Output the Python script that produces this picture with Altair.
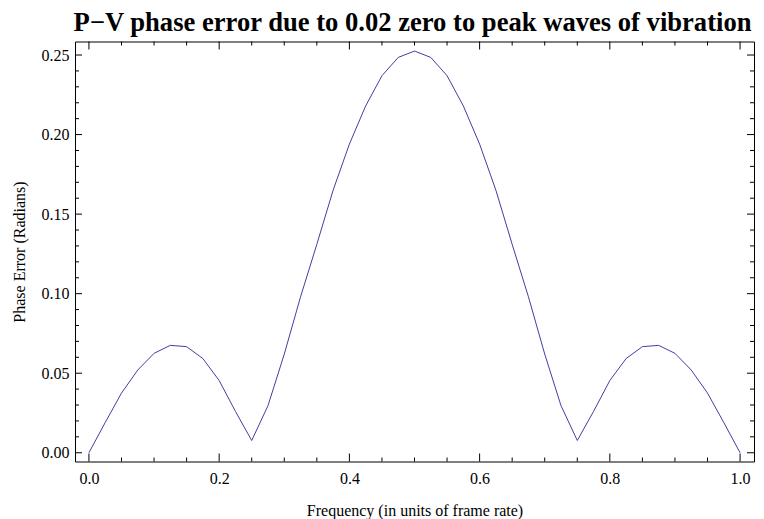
import altair as alt
import pandas as pd

# Data
freq = [round(i * 0.025, 3) for i in range(41)]
left_half = [0.0, 0.019, 0.0375, 0.052, 0.0625, 0.0675, 0.0667, 0.0592, 0.0454, 0.026,
             0.0077, 0.0296, 0.062, 0.098, 0.131, 0.165, 0.194, 0.218, 0.237, 0.2485, 0.2525]
right_half = [0.2485, 0.237, 0.218, 0.194, 0.165, 0.131, 0.098, 0.062, 0.0296, 0.0077,
              0.026, 0.0454, 0.0592, 0.0667, 0.0675, 0.0625, 0.052, 0.0375, 0.019, 0.0]
phase_error = left_half + right_half

x_major = [0.0, 0.2, 0.4, 0.6, 0.8, 1.0]
x_minor = [0.05, 0.1, 0.15, 0.25, 0.3, 0.35, 0.45, 0.5, 0.55, 0.65, 0.7, 0.75, 0.85, 0.9, 0.95]
y_major = [0.0, 0.05, 0.10, 0.15, 0.20, 0.25]
y_minor = [0.01, 0.02, 0.03, 0.04, 0.06, 0.07, 0.08, 0.09, 0.11, 0.12, 0.13, 0.14,
           0.16, 0.17, 0.18, 0.19, 0.21, 0.22, 0.23, 0.24]

W, H = 679, 420
FONT = "Liberation Serif"
LINE_COLOR = "#4040a0"

df = pd.DataFrame({"f": freq, "e": phase_error})

xscale = alt.Scale(domain=[-0.0214, 1.0214], nice=False, zero=False)
yscale = alt.Scale(domain=[-0.0055, 0.2585], nice=False, zero=False)

line = alt.Chart(df).mark_line(color=LINE_COLOR, strokeWidth=1).encode(
    x=alt.X("f:Q", scale=xscale, title="Frequency (in units of frame rate)",
            axis=alt.Axis(values=x_major, format=".1f", ticks=False, tickSize=0, domain=False,
                          grid=False, labelPadding=9, titlePadding=16)),
    y=alt.Y("e:Q", scale=yscale, title="Phase Error (Radians)",
            axis=alt.Axis(values=y_major, format=".2f", ticks=False, tickSize=0, domain=False,
                          grid=False, labelPadding=6, titlePadding=14)),
)

def xticks(vals, length):
    d = pd.DataFrame({"v": vals})
    bottom = alt.Chart(d).mark_rule(color="black", strokeWidth=1).encode(
        x=alt.X("v:Q", scale=xscale), y=alt.value(H), y2=alt.value(H - length))
    top = alt.Chart(d).mark_rule(color="black", strokeWidth=1).encode(
        x=alt.X("v:Q", scale=xscale), y=alt.value(0), y2=alt.value(length))
    return [bottom, top]

def yticks(vals, length):
    d = pd.DataFrame({"v": vals})
    left = alt.Chart(d).mark_rule(color="black", strokeWidth=1).encode(
        y=alt.Y("v:Q", scale=yscale), x=alt.value(0), x2=alt.value(length))
    right = alt.Chart(d).mark_rule(color="black", strokeWidth=1).encode(
        y=alt.Y("v:Q", scale=yscale), x=alt.value(W), x2=alt.value(W - length))
    return [left, right]

layers = [line] + xticks(x_major, 8) + xticks(x_minor, 4) + yticks(y_major, 7) + yticks(y_minor, 4)

chart = alt.layer(*layers).properties(
    width=W, height=H,
    title=alt.Title("P\u2212V phase error due to 0.02 zero to peak waves of vibration",
                    font=FONT, fontSize=26.6, fontWeight="bold", color="black",
                    anchor="middle", offset=4, dx=-2),
    autosize=alt.AutoSizeParams(type="none"),
    padding={"left": 67, "top": 33.5, "right": 2, "bottom": 60},
).configure_view(
    stroke="black", strokeWidth=1
).configure_axis(
    labelFont=FONT, titleFont=FONT, labelFontSize=16, titleFontSize=16,
    labelColor="black", titleColor="black", titleFontWeight="normal"
)

chart.save("out.html", embed_options={"renderer": "svg", "actions": False})
